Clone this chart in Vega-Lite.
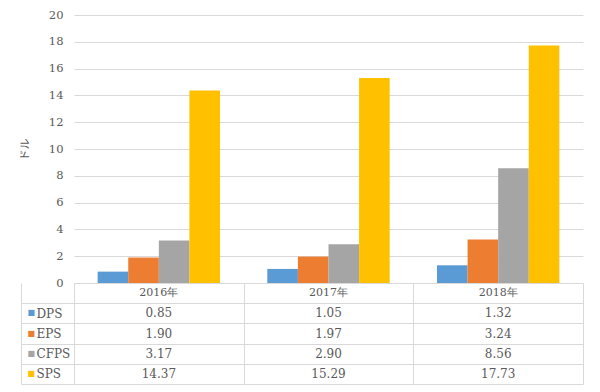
{
  "$schema": "https://vega.github.io/schema/vega-lite/v6.json",
  "background": "white",
  "padding": {"left": 19, "top": 9, "right": 10, "bottom": 5},
  "bounds": "flush",
  "spacing": 0,
  "config": {
    "view": {"stroke": null},
    "font": "DejaVu Serif",
    "axis": {"labelFont": "DejaVu Serif"},
    "text": {"font": "DejaVu Serif"}
  },
  "datasets": {
    "d": [
      {"year": "2016年", "series": "DPS", "value": 0.85},
      {"year": "2016年", "series": "EPS", "value": 1.90},
      {"year": "2016年", "series": "CFPS", "value": 3.17},
      {"year": "2016年", "series": "SPS", "value": 14.37},
      {"year": "2017年", "series": "DPS", "value": 1.05},
      {"year": "2017年", "series": "EPS", "value": 1.97},
      {"year": "2017年", "series": "CFPS", "value": 2.90},
      {"year": "2017年", "series": "SPS", "value": 15.29},
      {"year": "2018年", "series": "DPS", "value": 1.32},
      {"year": "2018年", "series": "EPS", "value": 3.24},
      {"year": "2018年", "series": "CFPS", "value": 8.56},
      {"year": "2018年", "series": "SPS", "value": 17.73}
    ]
  },
  "vconcat": [
    {
      "width": 509,
      "height": 268,
      "data": {"name": "d"},
      "mark": {"type": "bar"},
      "encoding": {
        "x": {"field": "year", "type": "nominal", "axis": null,
              "scale": {"paddingInner": 0, "paddingOuter": 0}},
        "xOffset": {"field": "series", "type": "nominal", "sort": ["DPS", "EPS", "CFPS", "SPS"],
                    "scale": {"paddingInner": 0, "paddingOuter": 0.773}},
        "y": {"field": "value", "type": "quantitative",
              "scale": {"domain": [0, 20]},
              "axis": {"values": [0, 2, 4, 6, 8, 10, 12, 14, 16, 18, 20],
                       "title": "ドル", "domain": false, "ticks": false,
                       "labelPadding": 11, "labelFontSize": 11.5, "labelColor": "#595959",
                       "gridColor": "#d9d9d9",
                       "titleFont": "Noto Sans CJK JP", "titleFontSize": 11,
                       "titleFontWeight": "normal", "titleColor": "#595959",
                       "titlePadding": 18}},
        "color": {"field": "series", "type": "nominal",
                  "scale": {"domain": ["DPS", "EPS", "CFPS", "SPS"],
                            "range": ["#5B9BD5", "#ED7D31", "#A5A5A5", "#FFC000"]},
                  "legend": null}
      }
    },
    {
      "width": 509,
      "height": 101,
      "data": {"name": "d"},
      "resolve": {"axis": {"y": "independent"}},
      "layer": [
        {
          "mark": {"type": "text", "fontSize": 12, "color": "#595959"},
          "encoding": {
            "x": {"field": "year", "type": "nominal",
                  "scale": {"paddingInner": 0, "paddingOuter": 0},
                  "axis": {"labels": false, "ticks": false, "domain": false, "title": null,
                           "grid": true, "tickBand": "extent", "gridColor": "#d9d9d9"}},
            "y": {"field": "series", "type": "nominal",
                  "scale": {"domain": ["header", "DPS", "EPS", "CFPS", "SPS"], "paddingInner": 0, "paddingOuter": 0},
                  "axis": {"orient": "left", "values": ["DPS", "EPS", "CFPS", "SPS"],
                           "title": null, "domain": true, "domainColor": "#d9d9d9",
                           "ticks": true, "tickSize": 53, "tickColor": "#d9d9d9", "tickBand": "extent",
                           "grid": true, "gridColor": "#d9d9d9",
                           "labelAlign": "left", "labelPadding": -15,
                           "labelFontSize": 12, "labelColor": "#595959"}},
            "text": {"field": "value", "type": "quantitative", "format": ".2f"}
          }
        },
        {
          "transform": [{"filter": "datum.series === 'DPS'"}],
          "mark": {"type": "text", "fontSize": 11, "color": "#595959"},
          "encoding": {
            "x": {"field": "year", "type": "nominal"},
            "y": {"datum": "header", "type": "nominal",
                  "scale": {"domain": ["header", "DPS", "EPS", "CFPS", "SPS"], "paddingInner": 0, "paddingOuter": 0},
                  "axis": null},
            "text": {"field": "year", "type": "nominal"}
          }
        },
        {
          "mark": {"type": "text"},
          "encoding": {
            "y": {"field": "series", "type": "nominal",
                  "scale": {"domain": ["header", "DPS", "EPS", "CFPS", "SPS"], "paddingInner": 0, "paddingOuter": 0},
                  "axis": {"orient": "left", "values": ["DPS", "EPS", "CFPS", "SPS"],
                           "title": null, "offset": 53, "domain": true, "domainColor": "#d9d9d9",
                           "ticks": false, "grid": false,
                           "labelExpr": "'■'", "labelFont": "DejaVu Sans", "labelFontSize": 8,
                           "labelAlign": "left", "labelPadding": -6,
                           "labelColor": {"expr": "datum.value == 'DPS' ? '#5B9BD5' : datum.value == 'EPS' ? '#ED7D31' : datum.value == 'CFPS' ? '#A5A5A5' : '#FFC000'"}}},
            "text": {"value": ""}
          }
        }
      ]
    }
  ]
}
